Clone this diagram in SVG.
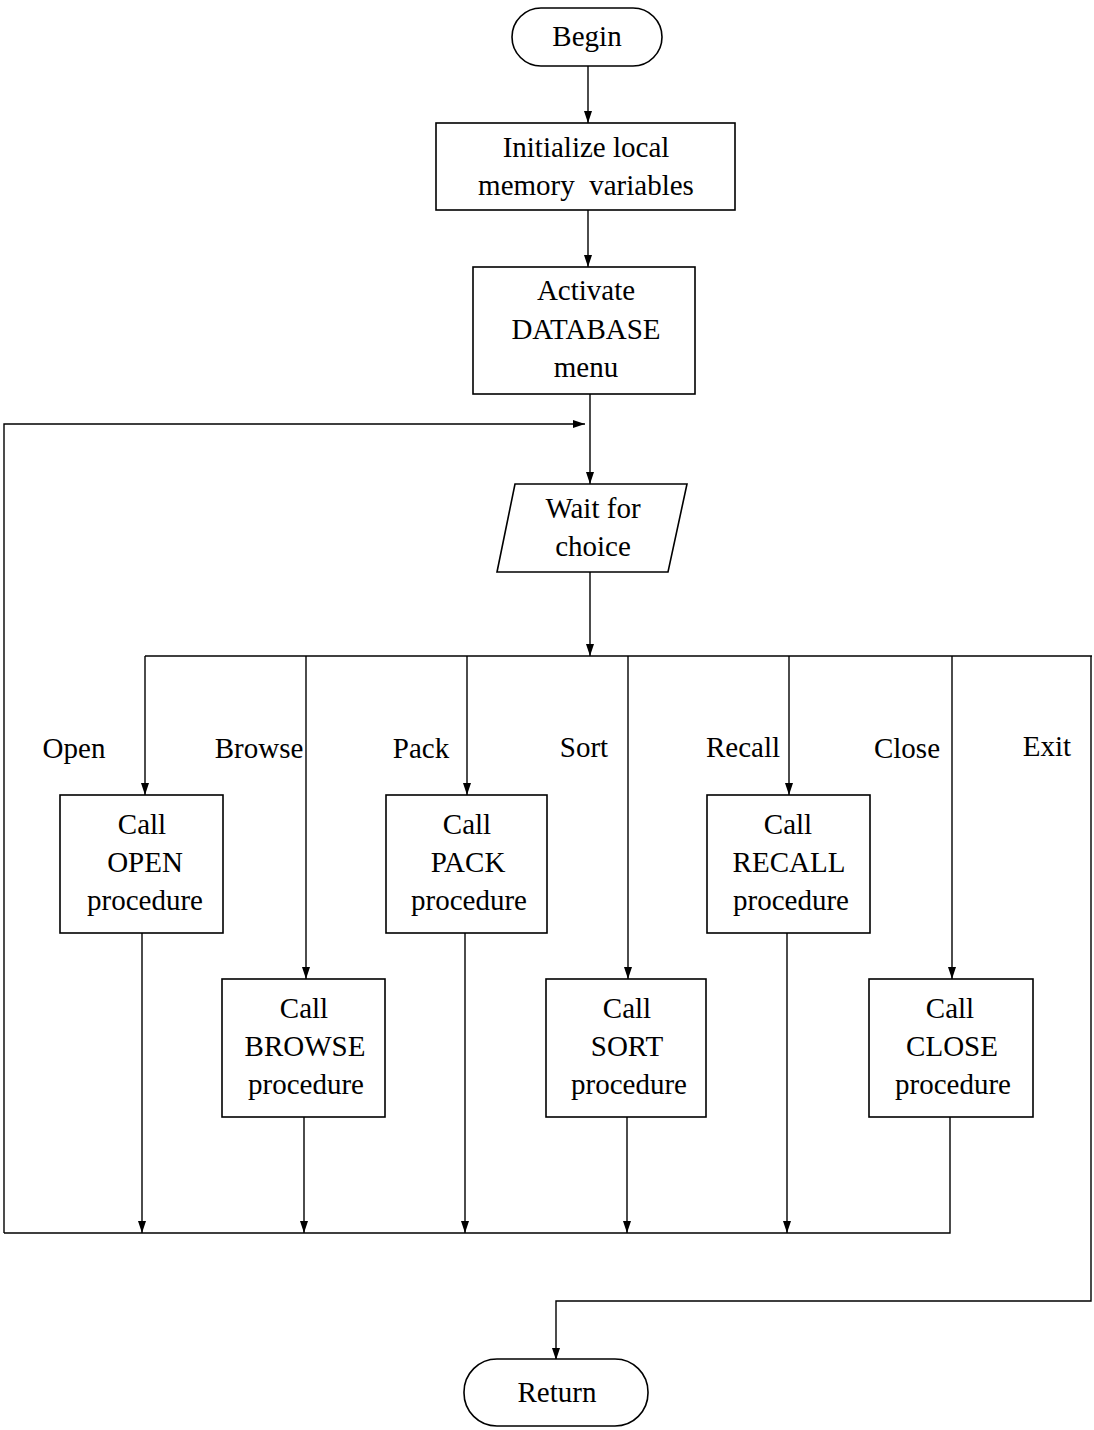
<svg xmlns="http://www.w3.org/2000/svg" width="1094" height="1430" viewBox="0 0 1094 1430">
<style>
.n{fill:#fff;stroke:#000;stroke-width:1.6}
.c{fill:none;stroke:#000;stroke-width:1.4}
text{font-family:"Liberation Serif","Times New Roman",serif;font-size:29px;fill:#000;text-anchor:middle}
.l{text-anchor:start}
</style>
<defs>
<marker id="a" viewBox="0 0 12 8" refX="12" refY="4" markerWidth="12" markerHeight="8" markerUnits="userSpaceOnUse" orient="auto">
<path d="M0,0 L12,4 L0,8 Z" fill="#000"/>
</marker>
</defs>
<rect width="1094" height="1430" fill="#fff"/>
<g id="connectors">
<path class="c" d="M588,66 V123" marker-end="url(#a)"/>
<path class="c" d="M588,210 V267" marker-end="url(#a)"/>
<path class="c" d="M590,394 V484" marker-end="url(#a)"/>
<path class="c" d="M4,1233 V424 H585" marker-end="url(#a)"/>
<path class="c" d="M590,572 V656" marker-end="url(#a)"/>
<path class="c" d="M145,656 H1092"/>
<path class="c" d="M145,656 V795" marker-end="url(#a)"/>
<path class="c" d="M306,656 V979" marker-end="url(#a)"/>
<path class="c" d="M467,656 V795" marker-end="url(#a)"/>
<path class="c" d="M628,656 V979" marker-end="url(#a)"/>
<path class="c" d="M789,656 V795" marker-end="url(#a)"/>
<path class="c" d="M952,656 V979" marker-end="url(#a)"/>
<path class="c" d="M1091,656 V1301 H556 V1360" marker-end="url(#a)"/>
<path class="c" d="M142,933 V1233" marker-end="url(#a)"/>
<path class="c" d="M304,1117 V1233" marker-end="url(#a)"/>
<path class="c" d="M465,933 V1233" marker-end="url(#a)"/>
<path class="c" d="M627,1117 V1233" marker-end="url(#a)"/>
<path class="c" d="M787,933 V1233" marker-end="url(#a)"/>
<path class="c" d="M950,1117 V1233 H4"/>
</g>
<g id="labels">
<text x="74" y="758">Open</text>
<text x="259" y="758">Browse</text>
<text x="421" y="758">Pack</text>
<text x="584" y="757">Sort</text>
<text x="743" y="757">Recall</text>
<text x="907" y="758">Close</text>
<text x="1047" y="756">Exit</text>
</g>
<g id="begin">
<rect class="n" x="512" y="8" width="150" height="58" rx="29"/>
<text x="587" y="46">Begin</text>
</g>
<g id="init">
<rect class="n" x="436" y="123" width="299" height="87"/>
<text x="586" y="157">Initialize local</text>
<text x="586" y="195" xml:space="preserve">memory  variables</text>
</g>
<g id="activate">
<rect class="n" x="473" y="267" width="222" height="127"/>
<text x="586" y="300">Activate</text>
<text x="586" y="339">DATABASE</text>
<text x="586" y="377">menu</text>
</g>
<g id="wait">
<path class="n" d="M515,484 H687 L668,572 H497 Z"/>
<text x="593" y="518">Wait for</text>
<text x="593" y="556">choice</text>
</g>
<g id="open">
<rect class="n" x="60" y="795" width="163" height="138"/>
<text x="142" y="834">Call</text>
<text x="145" y="872">OPEN</text>
<text x="145" y="910">procedure</text>
</g>
<g id="browse">
<rect class="n" x="222" y="979" width="163" height="138"/>
<text x="304" y="1018">Call</text>
<text x="305" y="1056">BROWSE</text>
<text x="306" y="1094">procedure</text>
</g>
<g id="pack">
<rect class="n" x="386" y="795" width="161" height="138"/>
<text x="467" y="834">Call</text>
<text x="468" y="872">PACK</text>
<text x="469" y="910">procedure</text>
</g>
<g id="sort">
<rect class="n" x="546" y="979" width="160" height="138"/>
<text x="627" y="1018">Call</text>
<text x="627" y="1056">SORT</text>
<text x="629" y="1094">procedure</text>
</g>
<g id="recall">
<rect class="n" x="707" y="795" width="163" height="138"/>
<text x="788" y="834">Call</text>
<text x="789" y="872">RECALL</text>
<text x="791" y="910">procedure</text>
</g>
<g id="close">
<rect class="n" x="869" y="979" width="164" height="138"/>
<text x="950" y="1018">Call</text>
<text x="952" y="1056">CLOSE</text>
<text x="953" y="1094">procedure</text>
</g>
<g id="return">
<rect class="n" x="464" y="1359" width="184" height="67" rx="33"/>
<text x="557" y="1402">Return</text>
</g>
</svg>
